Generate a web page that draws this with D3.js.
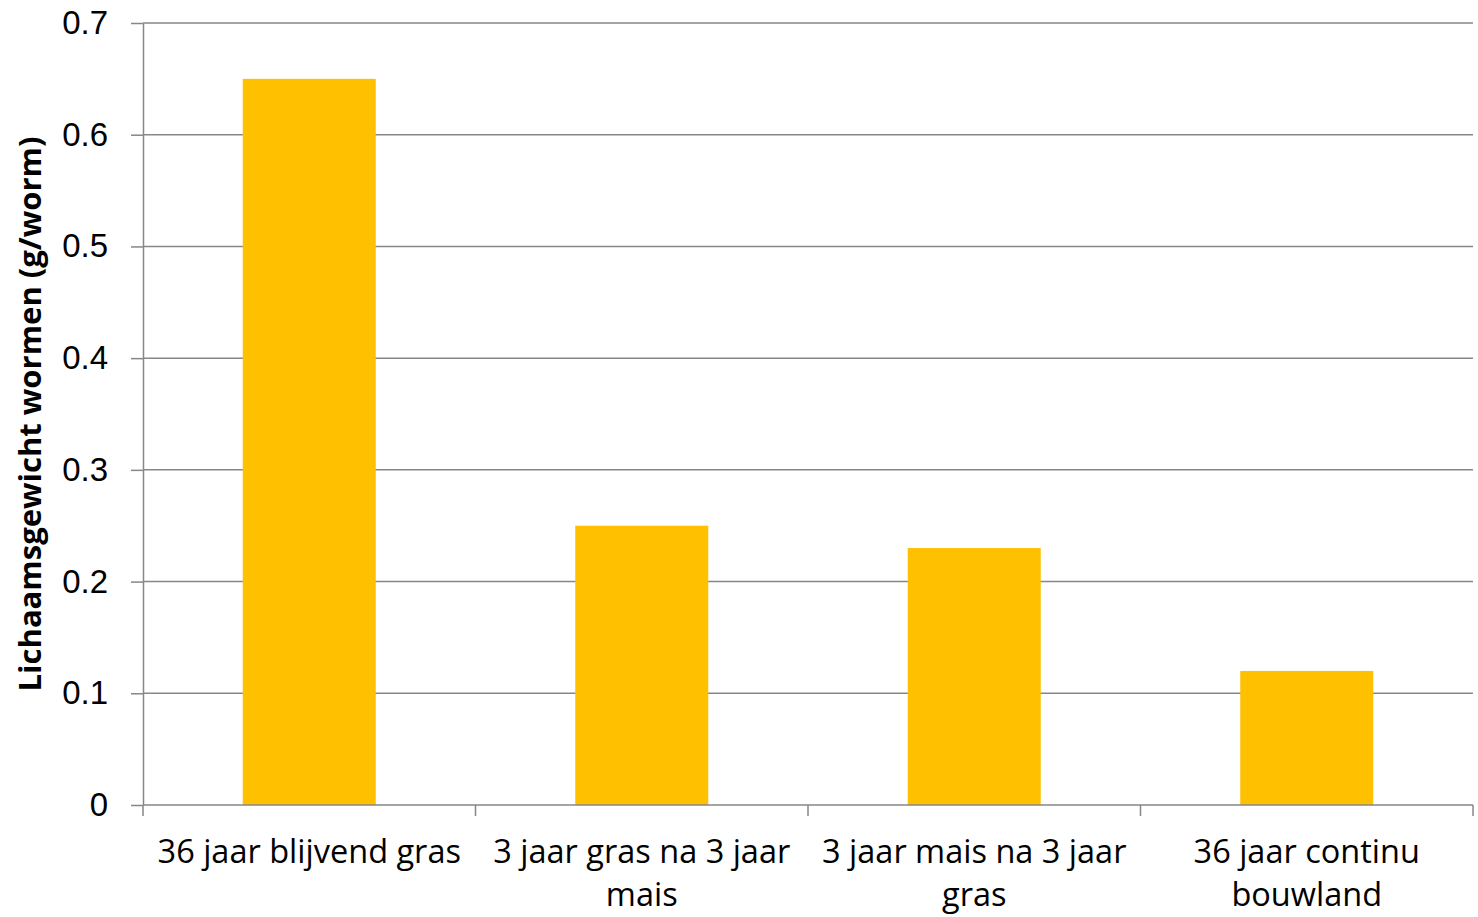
<!DOCTYPE html>
<html>
<head>
<meta charset="utf-8">
<script src="https://cdn.jsdelivr.net/npm/d3@7"></script>
<style>
  body { margin: 0; background: #fff; }
  svg { display: block; font-family: "Open Sans", "Noto Sans", sans-serif; }
  .axis text { fill: #000; }
  .axis path, .axis line { stroke: #878787; stroke-width: 1.5; }
</style>
</head>
<body>
<svg width="1478" height="917"></svg>
<script>
// categories, each label split into the lines shown under the axis
const categories = [
  "36 jaar blijvend gras",
  "3 jaar gras na 3 jaar mais",
  "3 jaar mais na 3 jaar gras",
  "36 jaar continu bouwland"
];
const labelLines = [
  ["36 jaar blijvend gras"],
  ["3 jaar gras na 3 jaar", "mais"],
  ["3 jaar mais na 3 jaar", "gras"],
  ["36 jaar continu", "bouwland"]
];
const values = [0.65, 0.25, 0.23, 0.12];
const yTicks = [0, 0.1, 0.2, 0.3, 0.4, 0.5, 0.6, 0.7];
const yTitle = "Lichaamsgewicht wormen (g/worm)";

const margin = { top: 23, right: 5, bottom: 112, left: 143 };
const width = 1478;
const height = 917;

const svg = d3.select("svg");

const xScale = d3
  .scaleBand()
  .domain(categories)
  .range([margin.left, width - margin.right])
  .paddingInner(0)
  .paddingOuter(0);

const yScale = d3
  .scaleLinear()
  .domain([0, 0.7])
  .range([height - margin.bottom, margin.top]);

// gridlines
svg
  .append("g")
  .selectAll("line")
  .data(yTicks.slice(1))
  .enter()
  .append("line")
  .attr("x1", margin.left)
  .attr("x2", width - margin.right)
  .attr("y1", d => yScale(d))
  .attr("y2", d => yScale(d))
  .attr("stroke", "#878787")
  .attr("stroke-width", 1.5);

// bars: 40% of each band (Excel gap width 150%)
const barW = xScale.bandwidth() * 0.4;
svg
  .append("g")
  .selectAll("rect")
  .data(values)
  .enter()
  .append("rect")
  .attr("x", (d, i) => xScale(categories[i]) + (xScale.bandwidth() - barW) / 2)
  .attr("width", barW)
  .attr("y", d => yScale(d))
  .attr("height", d => yScale(0) - yScale(d))
  .attr("fill", "#FFC000");

// y axis
const yAxis = d3
  .axisLeft(yScale)
  .tickValues(yTicks)
  .tickSize(12)
  .tickSizeOuter(0)
  .tickPadding(23)
  .tickFormat(d => (d === 0 ? "0" : d3.format(".1f")(d)));
svg
  .append("g")
  .attr("class", "axis y-axis")
  .attr("transform", `translate(${margin.left}, 0)`)
  .call(yAxis)
  .selectAll("text")
  .style("font-size", "33px");

// x axis: ticks at band boundaries
const boundaries = categories.map(c => xScale(c)).concat([width - margin.right]);
const xg = svg
  .append("g")
  .attr("class", "axis x-axis")
  .attr("transform", `translate(0, ${yScale(0)})`);
xg.append("path")
  .attr("d", `M${margin.left},0H${width - margin.right}`)
  .attr("fill", "none");
xg.selectAll("line")
  .data(boundaries)
  .enter()
  .append("line")
  .attr("x1", d => d)
  .attr("x2", d => d)
  .attr("y1", 0)
  .attr("y2", 11);
xg.selectAll("text.cat")
  .data(labelLines)
  .enter()
  .append("text")
  .attr("class", "cat")
  .attr("text-anchor", "middle")
  .style("font-size", "32.5px")
  .attr("x", (d, i) => xScale(categories[i]) + xScale.bandwidth() / 2)
  .attr("y", 58)
  .selectAll("tspan")
  .data(d => d)
  .enter()
  .append("tspan")
  .attr("x", function() { return d3.select(this.parentNode).attr("x"); })
  .attr("dy", (d, i) => (i === 0 ? 0 : 43))
  .text(d => d);

// y title
svg
  .append("text")
  .attr("transform", `translate(41, ${(margin.top + yScale(0)) / 2}) rotate(-90)`)
  .attr("text-anchor", "middle")
  .style("font-size", "31px")
  .style("font-weight", "bold")
  .text(yTitle);
</script>
</body>
</html>
